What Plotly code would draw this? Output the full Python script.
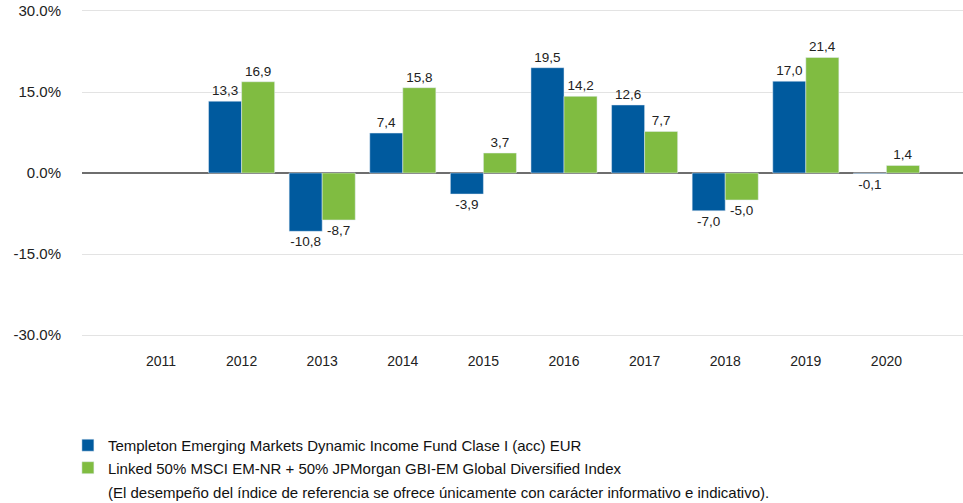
import plotly.graph_objects as go

years = ["2011", "2012", "2013", "2014", "2015", "2016", "2017", "2018", "2019", "2020"]
fund = [None, 13.3, -10.8, 7.4, -3.9, 19.5, 12.6, -7.0, 17.0, -0.1]
index = [None, 16.9, -8.7, 15.8, 3.7, 14.2, 7.7, -5.0, 21.4, 1.4]
y_ticks = [30, 15, 0, -15, -30]
y_ticktext = ["30.0%", "15.0%", "0.0%", "-15.0%", "-30.0%"]
fund_name = "Templeton Emerging Markets Dynamic Income Fund Clase I (acc) EUR"
index_name = "Linked 50% MSCI EM-NR + 50% JPMorgan GBI-EM Global Diversified Index"
footnote = "(El desempeño del índice de referencia se ofrece únicamente con carácter informativo e indicativo)."

def fmt(vals):
    return ["" if v is None else f"{v:.1f}".replace(".", ",") for v in vals]

FONT = "Liberation Sans, Arial, sans-serif"
GRID = "#e3e3e3"

fig = go.Figure()
fig.add_trace(go.Bar(x=years, y=fund, name=fund_name, marker_color="#005A9E",
                     text=fmt(fund), textposition="outside", cliponaxis=False,
                     textfont=dict(size=13.5, color="#222222")))
fig.add_trace(go.Bar(x=years, y=index, name=index_name, marker_color="#80BC41",
                     text=fmt(index), textposition="outside", cliponaxis=False,
                     textfont=dict(size=13.5, color="#222222")))

W, H = 963, 503
ML, MT, MB = 82, 11, 168
plot_w = W - ML
plot_h = H - MT - MB

fig.update_layout(
    width=W, height=H,
    margin=dict(l=ML, r=0, t=MT, b=MB, autoexpand=False),
    paper_bgcolor="white", plot_bgcolor="white",
    font=dict(family=FONT, size=14, color="#222222"),
    barmode="group", bargap=0.18, bargroupgap=0,
    showlegend=True,
    legend=dict(x=-0.016, y=-0.29, xanchor="left", yanchor="top",
                font=dict(size=15, color="#111111"), tracegroupgap=0,
                itemclick=False),
    xaxis=dict(range=[-0.98, 9.95], showgrid=False, ticks="",
               showline=True, mirror=True, linecolor=GRID, linewidth=1,
               tickfont=dict(size=14), ticklabelstandoff=13, automargin=False),
    yaxis=dict(range=[-30, 30], tickvals=y_ticks, ticktext=y_ticktext,
               showgrid=True, gridcolor=GRID, gridwidth=1,
               zeroline=True, zerolinecolor="#6e6e6e", zerolinewidth=2,
               ticks="", tickfont=dict(size=15), ticklabelstandoff=20,
               automargin=False),
    annotations=[dict(text=footnote,
                      x=(106 - ML) / plot_w, y=(H - MB - 492) / plot_h,
                      xref="paper", yref="paper",
                      showarrow=False, xanchor="left", yanchor="middle",
                      font=dict(size=15, color="#111111"))],
)

fig.write_html("out.html", config={"displayModeBar": False},
               post_script="document.body.style.margin='0';document.body.style.overflow='hidden';")
